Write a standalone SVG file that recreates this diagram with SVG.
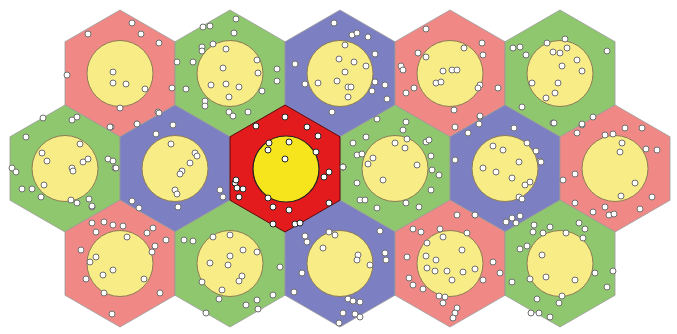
<svg xmlns="http://www.w3.org/2000/svg" xmlns:xlink="http://www.w3.org/1999/xlink" width="677" height="334" viewBox="0 0 677 334">
<style>
.hex{stroke:#9a9a9a;stroke-width:0.8}
.pink{fill:#f08886}
.green{fill:#8fc76e}
.blue{fill:#7c80c2}
.red{fill:#e41b1d;stroke:#5a0a0a;stroke-width:1}
.cir{fill:#f8ec86;stroke:#8c7c55;stroke-width:1}
.circ{fill:#f6e51c;stroke:#222;stroke-width:1.2}
.dots circle{fill:#fff;stroke:#6e6e6e;stroke-width:1;r:3}
.dk circle{stroke:#222}
</style>
<defs>
<polygon id="hx" points="0,-63.5 55,-31.75 55,31.75 0,63.5 -55,31.75 -55,-31.75"/>
</defs>
<rect width="677" height="334" fill="#fff"/>
<g id="T1"><use xlink:href="#hx" x="120" y="73.5" class="hex pink"/><circle class="cir" cx="120" cy="73.5" r="33"/></g>
<g id="T2"><use xlink:href="#hx" x="230" y="73.5" class="hex green"/><circle class="cir" cx="230" cy="73.5" r="33"/></g>
<g id="T3"><use xlink:href="#hx" x="340" y="73.5" class="hex blue"/><circle class="cir" cx="340" cy="73.5" r="33"/></g>
<g id="T4"><use xlink:href="#hx" x="450" y="73.5" class="hex pink"/><circle class="cir" cx="450" cy="73.5" r="33"/></g>
<g id="T5"><use xlink:href="#hx" x="560" y="73.5" class="hex green"/><circle class="cir" cx="560" cy="73.5" r="33"/></g>
<g id="M1"><use xlink:href="#hx" x="65" y="168.5" class="hex green"/><circle class="cir" cx="65" cy="168.5" r="33"/></g>
<g id="M2"><use xlink:href="#hx" x="175" y="168.5" class="hex blue"/><circle class="cir" cx="175" cy="168.5" r="33"/></g>
<g id="M4"><use xlink:href="#hx" x="395" y="168.5" class="hex green"/><circle class="cir" cx="395" cy="168.5" r="33"/></g>
<g id="M5"><use xlink:href="#hx" x="505" y="168.5" class="hex blue"/><circle class="cir" cx="505" cy="168.5" r="33"/></g>
<g id="M6"><use xlink:href="#hx" x="615" y="168.5" class="hex pink"/><circle class="cir" cx="615" cy="168.5" r="33"/></g>
<g id="B1"><use xlink:href="#hx" x="120" y="263.5" class="hex pink"/><circle class="cir" cx="120" cy="263.5" r="33"/></g>
<g id="B2"><use xlink:href="#hx" x="230" y="263.5" class="hex green"/><circle class="cir" cx="230" cy="263.5" r="33"/></g>
<g id="B3"><use xlink:href="#hx" x="340" y="263.5" class="hex blue"/><circle class="cir" cx="340" cy="263.5" r="33"/></g>
<g id="B4"><use xlink:href="#hx" x="450" y="263.5" class="hex pink"/><circle class="cir" cx="450" cy="263.5" r="33"/></g>
<g id="B5"><use xlink:href="#hx" x="560" y="263.5" class="hex green"/><circle class="cir" cx="560" cy="263.5" r="33"/></g>
<g id="M3"><use xlink:href="#hx" x="285" y="168.5" class="red"/><circle class="circ" cx="286" cy="169" r="33"/></g>
<g class="dots">
<g id="dots-T1"><circle cx="132" cy="23"/><circle cx="88" cy="34"/><circle cx="141" cy="34"/><circle cx="159" cy="43"/><circle cx="113" cy="72"/><circle cx="113" cy="83"/><circle cx="126" cy="84"/><circle cx="145" cy="89"/><circle cx="67" cy="75"/><circle cx="172" cy="88"/><circle cx="120" cy="108"/><circle cx="158" cy="112"/><circle cx="137" cy="124"/><circle cx="111" cy="127"/></g>
<g id="dots-T2"><circle cx="236" cy="19"/><circle cx="203" cy="27"/><circle cx="210" cy="26"/><circle cx="234" cy="33"/><circle cx="213" cy="44"/><circle cx="202" cy="47"/><circle cx="202" cy="51"/><circle cx="226" cy="49"/><circle cx="177" cy="62"/><circle cx="193" cy="62"/><circle cx="257" cy="60"/><circle cx="223" cy="68"/><circle cx="258" cy="73"/><circle cx="277" cy="69"/><circle cx="277" cy="81"/><circle cx="211" cy="85"/><circle cx="226" cy="84"/><circle cx="239" cy="87"/><circle cx="229" cy="97"/><circle cx="186" cy="89"/><circle cx="262" cy="91"/><circle cx="205" cy="101"/><circle cx="205" cy="106"/><circle cx="229" cy="112"/><circle cx="233" cy="116"/><circle cx="248" cy="112"/></g>
<g id="dots-T3"><circle cx="334" cy="23"/><circle cx="295" cy="64"/><circle cx="305" cy="84"/><circle cx="345" cy="45"/><circle cx="339" cy="59"/><circle cx="345" cy="72"/><circle cx="318" cy="83"/><circle cx="337" cy="81"/><circle cx="348" cy="87"/><circle cx="348" cy="97"/><circle cx="352" cy="35"/><circle cx="357" cy="33"/><circle cx="368" cy="37"/><circle cx="354" cy="62"/><circle cx="366" cy="66"/><circle cx="375" cy="54"/><circle cx="375" cy="82"/><circle cx="372" cy="91"/><circle cx="385" cy="85"/><circle cx="387" cy="99"/><circle cx="332" cy="112"/><circle cx="351" cy="87"/></g>
<g id="dots-T4"><circle cx="426" cy="29"/><circle cx="418" cy="53"/><circle cx="426" cy="57"/><circle cx="401" cy="66"/><circle cx="403" cy="70"/><circle cx="443" cy="71"/><circle cx="452" cy="70"/><circle cx="457" cy="70"/><circle cx="436" cy="83"/><circle cx="441" cy="82"/><circle cx="406" cy="93"/><circle cx="414" cy="88"/><circle cx="454" cy="110"/><circle cx="482" cy="43"/><circle cx="464" cy="48"/><circle cx="483" cy="55"/><circle cx="480" cy="85"/><circle cx="478" cy="88"/><circle cx="498" cy="88"/><circle cx="480" cy="117"/><circle cx="455" cy="127"/></g>
<g id="dots-T5"><circle cx="513" cy="48"/><circle cx="520" cy="47"/><circle cx="526" cy="55"/><circle cx="547" cy="43"/><circle cx="565" cy="39"/><circle cx="553" cy="52"/><circle cx="560" cy="53"/><circle cx="567" cy="48"/><circle cx="577" cy="60"/><circle cx="562" cy="66"/><circle cx="582" cy="71"/><circle cx="607" cy="51"/><circle cx="532" cy="83"/><circle cx="558" cy="83"/><circle cx="555" cy="93"/><circle cx="546" cy="98"/><circle cx="522" cy="107"/><circle cx="553" cy="123"/><circle cx="582" cy="125"/><circle cx="593" cy="117"/></g>
<g id="dots-M1"><circle cx="43" cy="118"/><circle cx="72" cy="120"/><circle cx="77" cy="117"/><circle cx="26" cy="137"/><circle cx="80" cy="144"/><circle cx="42" cy="153"/><circle cx="47" cy="161"/><circle cx="83" cy="162"/><circle cx="88" cy="159"/><circle cx="72" cy="168"/><circle cx="73" cy="171"/><circle cx="108" cy="159"/><circle cx="12" cy="168"/><circle cx="16" cy="172"/><circle cx="115" cy="168"/><circle cx="22" cy="189"/><circle cx="32" cy="189"/><circle cx="44" cy="185"/><circle cx="41" cy="197"/><circle cx="71" cy="200"/><circle cx="89" cy="199"/><circle cx="92" cy="207"/><circle cx="110" cy="127"/><circle cx="77" cy="203"/><circle cx="92" cy="206"/></g>
<g id="dots-M2"><circle cx="159" cy="113"/><circle cx="137" cy="124"/><circle cx="173" cy="125"/><circle cx="156" cy="134"/><circle cx="171" cy="144"/><circle cx="195" cy="153"/><circle cx="197" cy="156"/><circle cx="190" cy="163"/><circle cx="182" cy="171"/><circle cx="180" cy="174"/><circle cx="116" cy="168"/><circle cx="175" cy="190"/><circle cx="177" cy="194"/><circle cx="220" cy="190"/><circle cx="223" cy="197"/><circle cx="132" cy="201"/><circle cx="139" cy="208"/><circle cx="178" cy="207"/><circle cx="113" cy="161"/></g>
<g id="dots-M3" class="dk"><circle cx="285" cy="117"/><circle cx="256" cy="126"/><circle cx="307" cy="127"/><circle cx="318" cy="136"/><circle cx="269" cy="143"/><circle cx="268" cy="150"/><circle cx="289" cy="142"/><circle cx="316" cy="152"/><circle cx="285" cy="159"/><circle cx="329" cy="172"/><circle cx="324" cy="177"/><circle cx="343" cy="167"/><circle cx="235" cy="183"/><circle cx="237" cy="188"/><circle cx="243" cy="189"/><circle cx="236" cy="180"/><circle cx="239" cy="197"/><circle cx="268" cy="198"/><circle cx="273" cy="207"/><circle cx="289" cy="210"/><circle cx="329" cy="203"/><circle cx="273" cy="224"/><circle cx="295" cy="224"/><circle cx="300" cy="223"/></g>
<g id="dots-M4"><circle cx="377" cy="119"/><circle cx="406" cy="122"/><circle cx="403" cy="130"/><circle cx="366" cy="137"/><circle cx="353" cy="143"/><circle cx="395" cy="143"/><circle cx="407" cy="139"/><circle cx="405" cy="148"/><circle cx="426" cy="142"/><circle cx="429" cy="140"/><circle cx="357" cy="155"/><circle cx="362" cy="154"/><circle cx="373" cy="158"/><circle cx="368" cy="164"/><circle cx="417" cy="165"/><circle cx="431" cy="156"/><circle cx="432" cy="170"/><circle cx="439" cy="175"/><circle cx="383" cy="180"/><circle cx="357" cy="183"/><circle cx="431" cy="190"/><circle cx="360" cy="200"/><circle cx="365" cy="200"/><circle cx="377" cy="208"/><circle cx="406" cy="203"/><circle cx="419" cy="207"/><circle cx="343" cy="167"/></g>
<g id="dots-M5"><circle cx="468" cy="133"/><circle cx="480" cy="116"/><circle cx="479" cy="124"/><circle cx="514" cy="128"/><circle cx="455" cy="160"/><circle cx="493" cy="146"/><circle cx="503" cy="150"/><circle cx="527" cy="143"/><circle cx="536" cy="151"/><circle cx="540" cy="161"/><circle cx="519" cy="162"/><circle cx="483" cy="168"/><circle cx="496" cy="172"/><circle cx="512" cy="178"/><circle cx="530" cy="182"/><circle cx="525" cy="185"/><circle cx="519" cy="197"/><circle cx="522" cy="199"/><circle cx="475" cy="215"/><circle cx="506" cy="222"/><circle cx="512" cy="218"/><circle cx="520" cy="216"/><circle cx="516" cy="223"/></g>
<g id="dots-M6"><circle cx="554" cy="123"/><circle cx="582" cy="124"/><circle cx="577" cy="133"/><circle cx="605" cy="135"/><circle cx="613" cy="134"/><circle cx="625" cy="128"/><circle cx="642" cy="128"/><circle cx="622" cy="143"/><circle cx="620" cy="152"/><circle cx="646" cy="149"/><circle cx="657" cy="150"/><circle cx="541" cy="162"/><circle cx="575" cy="174"/><circle cx="563" cy="180"/><circle cx="635" cy="183"/><circle cx="621" cy="196"/><circle cx="652" cy="197"/><circle cx="575" cy="203"/><circle cx="593" cy="212"/><circle cx="605" cy="207"/><circle cx="609" cy="215"/><circle cx="614" cy="214"/><circle cx="640" cy="209"/></g>
<g id="dots-B1"><circle cx="92" cy="223"/><circle cx="104" cy="222"/><circle cx="113" cy="225"/><circle cx="123" cy="226"/><circle cx="96" cy="232"/><circle cx="147" cy="233"/><circle cx="153" cy="228"/><circle cx="127" cy="237"/><circle cx="166" cy="240"/><circle cx="155" cy="246"/><circle cx="152" cy="252"/><circle cx="81" cy="250"/><circle cx="96" cy="257"/><circle cx="90" cy="262"/><circle cx="113" cy="270"/><circle cx="103" cy="275"/><circle cx="86" cy="279"/><circle cx="144" cy="279"/><circle cx="104" cy="293"/><circle cx="160" cy="293"/><circle cx="112" cy="314"/></g>
<g id="dots-B2"><circle cx="184" cy="240"/><circle cx="193" cy="241"/><circle cx="213" cy="237"/><circle cx="230" cy="235"/><circle cx="243" cy="250"/><circle cx="257" cy="252"/><circle cx="230" cy="256"/><circle cx="210" cy="263"/><circle cx="228" cy="265"/><circle cx="242" cy="276"/><circle cx="239" cy="281"/><circle cx="202" cy="282"/><circle cx="222" cy="290"/><circle cx="219" cy="299"/><circle cx="280" cy="267"/><circle cx="273" cy="295"/><circle cx="257" cy="300"/><circle cx="246" cy="305"/><circle cx="258" cy="309"/><circle cx="206" cy="313"/></g>
<g id="dots-B3"><circle cx="305" cy="236"/><circle cx="307" cy="242"/><circle cx="329" cy="232"/><circle cx="335" cy="235"/><circle cx="380" cy="231"/><circle cx="323" cy="248"/><circle cx="358" cy="255"/><circle cx="357" cy="260"/><circle cx="370" cy="265"/><circle cx="385" cy="253"/><circle cx="386" cy="260"/><circle cx="302" cy="273"/><circle cx="294" cy="292"/><circle cx="348" cy="299"/><circle cx="353" cy="301"/><circle cx="360" cy="302"/><circle cx="343" cy="313"/><circle cx="355" cy="314"/><circle cx="360" cy="317"/><circle cx="339" cy="323"/></g>
<g id="dots-B4"><circle cx="413" cy="229"/><circle cx="421" cy="232"/><circle cx="440" cy="229"/><circle cx="443" cy="237"/><circle cx="427" cy="243"/><circle cx="407" cy="257"/><circle cx="426" cy="256"/><circle cx="436" cy="260"/><circle cx="427" cy="268"/><circle cx="435" cy="271"/><circle cx="447" cy="271"/><circle cx="409" cy="278"/><circle cx="413" cy="285"/><circle cx="452" cy="280"/><circle cx="423" cy="289"/><circle cx="439" cy="296"/><circle cx="445" cy="297"/><circle cx="443" cy="303"/><circle cx="457" cy="308"/><circle cx="455" cy="313"/><circle cx="453" cy="318"/><circle cx="457" cy="215"/><circle cx="475" cy="215"/><circle cx="467" cy="233"/><circle cx="462" cy="250"/><circle cx="493" cy="262"/><circle cx="475" cy="269"/><circle cx="463" cy="272"/><circle cx="500" cy="273"/><circle cx="483" cy="280"/></g>
<g id="dots-B5"><circle cx="534" cy="225"/><circle cx="550" cy="227"/><circle cx="533" cy="232"/><circle cx="543" cy="233"/><circle cx="566" cy="233"/><circle cx="579" cy="223"/><circle cx="585" cy="229"/><circle cx="583" cy="238"/><circle cx="520" cy="249"/><circle cx="527" cy="246"/><circle cx="542" cy="255"/><circle cx="512" cy="282"/><circle cx="530" cy="279"/><circle cx="546" cy="277"/><circle cx="575" cy="280"/><circle cx="595" cy="273"/><circle cx="613" cy="271"/><circle cx="607" cy="287"/><circle cx="562" cy="296"/><circle cx="559" cy="303"/><circle cx="537" cy="299"/><circle cx="531" cy="313"/><circle cx="539" cy="313"/><circle cx="550" cy="317"/></g>
</g>
</svg>
